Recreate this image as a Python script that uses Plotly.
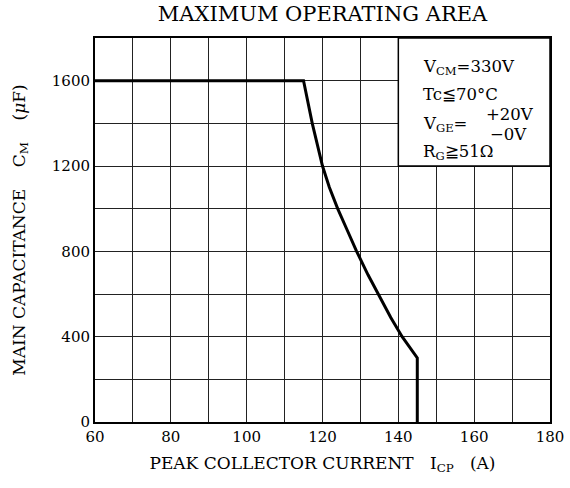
import plotly.graph_objects as go

# Data
current = [60, 115, 117.3, 120, 121.8, 124, 126.5, 129, 132, 134.7, 138, 141, 145, 145]
capacitance = [1600, 1600, 1400, 1200, 1100, 1000, 900, 800, 690, 600, 490, 400, 300, 0]

x_tickvals = [60, 70, 80, 90, 100, 110, 120, 130, 140, 150, 160, 170, 180]
x_ticktext = ["60", "", "80", "", "100", "", "120", "", "140", "", "160", "", "180"]
y_tickvals = [0, 200, 400, 600, 800, 1000, 1200, 1400, 1600, 1800]
y_ticktext = ["0", "", "400", "", "800", "", "1200", "", "1600", ""]

conditions = ["V<sub>CM</sub>=330V", "Tc≦70°C", "V<sub>GE</sub>=", "R<sub>G</sub>≧51Ω"]
cond_y = [1660, 1535, 1395, 1262]

FONT = "DejaVu Serif"

fig = go.Figure()
fig.add_trace(go.Scatter(x=current, y=capacitance, mode="lines",
                         line=dict(color="black", width=3), showlegend=False,
                         hoverinfo="skip"))

fig.add_shape(type="rect", x0=140, x1=180, y0=1200, y1=1800, xref="x", yref="y",
              fillcolor="white", line=dict(color="black", width=1.5), layer="above")

for t, yy in zip(conditions, cond_y):
    fig.add_annotation(x=145.9, y=yy, text=t, showarrow=False, xanchor="left",
                       yanchor="middle", font=dict(family=FONT, size=16.5, color="black"))
fig.add_annotation(x=162.6, y=1440, text="+20V", showarrow=False, xanchor="left",
                   yanchor="middle", font=dict(family=FONT, size=16.5, color="black"))
fig.add_annotation(x=163.6, y=1350, text="−0V", showarrow=False, xanchor="left",
                   yanchor="middle", font=dict(family=FONT, size=16.5, color="black"))

fig.update_layout(
    width=570, height=488,
    margin=dict(l=95, r=20, t=38, b=66),
    paper_bgcolor="white", plot_bgcolor="white",
    font=dict(family=FONT, size=14, color="black"),
    title=dict(text="MAXIMUM OPERATING AREA", xref="paper", x=0.5, xanchor="center",
               yref="container", y=0.972, yanchor="middle",
               font=dict(family=FONT, size=21, color="black")),
    xaxis=dict(range=[60, 180], tickvals=x_tickvals, ticktext=x_ticktext,
               showgrid=True, gridcolor="#222", gridwidth=1, zeroline=False,
               showline=True, linecolor="black", linewidth=2, mirror=True,
               automargin=False,
               ticks="", tickfont=dict(family=FONT, size=15),
               title=dict(text="PEAK COLLECTOR CURRENT\u00a0\u00a0\u00a0I<sub>CP</sub>\u00a0\u00a0\u00a0(A)",
                          font=dict(family=FONT, size=17), standoff=12)),
    yaxis=dict(range=[0, 1800], tickvals=y_tickvals, ticktext=y_ticktext,
               showgrid=True, gridcolor="#222", gridwidth=1, zeroline=False,
               showline=True, linecolor="black", linewidth=2, mirror=True,
               automargin=False,
               ticks="", tickfont=dict(family=FONT, size=15),
               title=dict(text="MAIN CAPACITANCE\u00a0\u00a0\u00a0\u00a0C<sub>M</sub>\u00a0\u00a0\u00a0\u00a0(<i>μ</i>F)",
                          font=dict(family=FONT, size=17), standoff=22)),
)

fig.write_html("out.html", config={"displayModeBar": False},
               post_script="document.body.style.margin='0';document.body.style.overflow='hidden';")
